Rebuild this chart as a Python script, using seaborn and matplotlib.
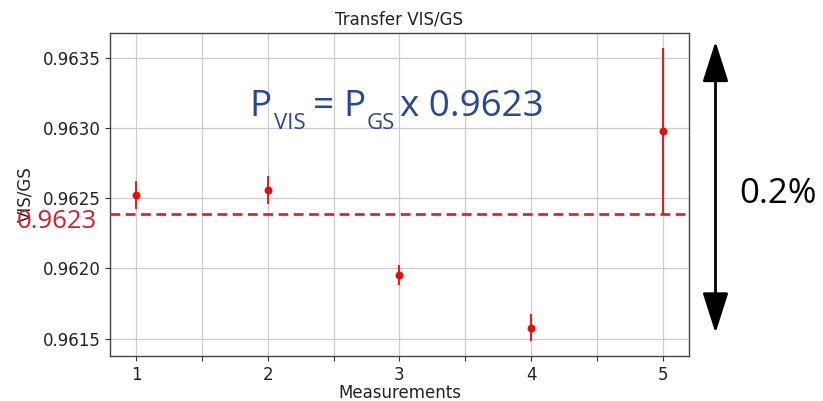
import numpy as np
import pandas as pd
import matplotlib
matplotlib.use("Agg")
import matplotlib.pyplot as plt
import seaborn as sns

# Transfer ratio measurements VIS/GS with 1-sigma uncertainties
measurement = [1, 2, 3, 4, 5]
ratio = [0.96252, 0.96256, 0.961952, 0.961578, 0.96298]
ratio_err = [0.0001, 0.0001, 0.00007, 0.000096, 0.00059]
transfer_factor = 0.96239
x_ticks = [1, 1.5, 2, 2.5, 3, 3.5, 4, 4.5, 5]
x_ticklabels = ["1", "", "2", "", "3", "", "4", "", "5"]

df = pd.DataFrame({"Measurements": measurement, "VIS/GS": ratio, "err": ratio_err})

sns.set_style("white")
plt.rcParams["font.family"] = ["DejaVu Sans"]

W, H = 823, 401
fig = plt.figure(figsize=(W / 100, H / 100), dpi=100)
ax = fig.add_axes([110 / W, 1 - 356 / H, (689 - 110) / W, (356 - 33) / H])


def fx(px):
    return px / W


def fy(py):
    return 1 - py / H


ax.errorbar(df["Measurements"], df["VIS/GS"], yerr=df["err"], fmt="none",
            ecolor="red", elinewidth=1.3, zorder=3)
sns.scatterplot(data=df, x="Measurements", y="VIS/GS", color="red", s=32,
                edgecolor="red", linewidth=0, ax=ax, zorder=4)

ax.axhline(transfer_factor, color="#e8202a", lw=2.0, dashes=(3.5, 2), zorder=5)

ax.set_xticks(x_ticks)
ax.set_xticklabels(x_ticklabels)
ax.set_yticks([0.9615, 0.9620, 0.9625, 0.9630, 0.9635])
ax.set_yticklabels(["0.9615", "0.9620", "0.9625", "0.9630", "0.9635"])
ax.grid(True, color="#cccccc", lw=0.9)
ax.tick_params(axis="both", direction="out", length=3.5, width=0.8,
               colors="#333333", labelsize=12, labelcolor="#222222",
               bottom=True, left=True)
for s in ax.spines.values():
    s.set_color("#444444")
    s.set_linewidth(1.0)

ax.set_title("Transfer VIS/GS", fontsize=12, color="#222222", pad=6)
ax.set_xlabel("Measurements", fontsize=12, color="#222222", labelpad=0)
ax.set_ylabel("VIS/GS", fontsize=12, color="#222222", labelpad=6)

# Annotations
label_value = f"{np.floor(transfer_factor * 1e4) / 1e4:.4f}"
fig.text(fx(57), fy(221), label_value, color="#d42028", fontsize=18.5,
         family="Open Sans", ha="center", va="center")

# Equation P_VIS = P_GS x factor, set piece by piece
blue = "#2646a0"
main_base, sub_base = 116.5, 128.5
eq_parts = [
    ("P", 249.5, main_base, 26.5),
    ("VIS", 273.5, sub_base, 16),
    ("=", 313, main_base, 26.5),
    ("P", 343.5, main_base, 26.5),
    ("GS", 367, sub_base, 16),
    ("x " + label_value, 400, main_base, 26.5),
]
for txt, px, py, size in eq_parts:
    fig.text(fx(px), fy(py), txt, color=blue, fontsize=size, family="Open Sans",
             ha="left", va="baseline")

fig.text(fx(778), fy(194), "0.2%", color="black", fontsize=25,
         family="Open Sans", ha="center", va="center")

ax.annotate("", xy=(fx(715.5), fy(41.5)), xytext=(fx(715.5), fy(333)),
            xycoords="figure fraction", textcoords="figure fraction",
            arrowprops=dict(arrowstyle="<|-|>,head_length=2.5,head_width=0.8",
                            color="black", lw=2.0, shrinkA=0, shrinkB=0),
            annotation_clip=False)

fig.savefig("out.png", dpi=100)
